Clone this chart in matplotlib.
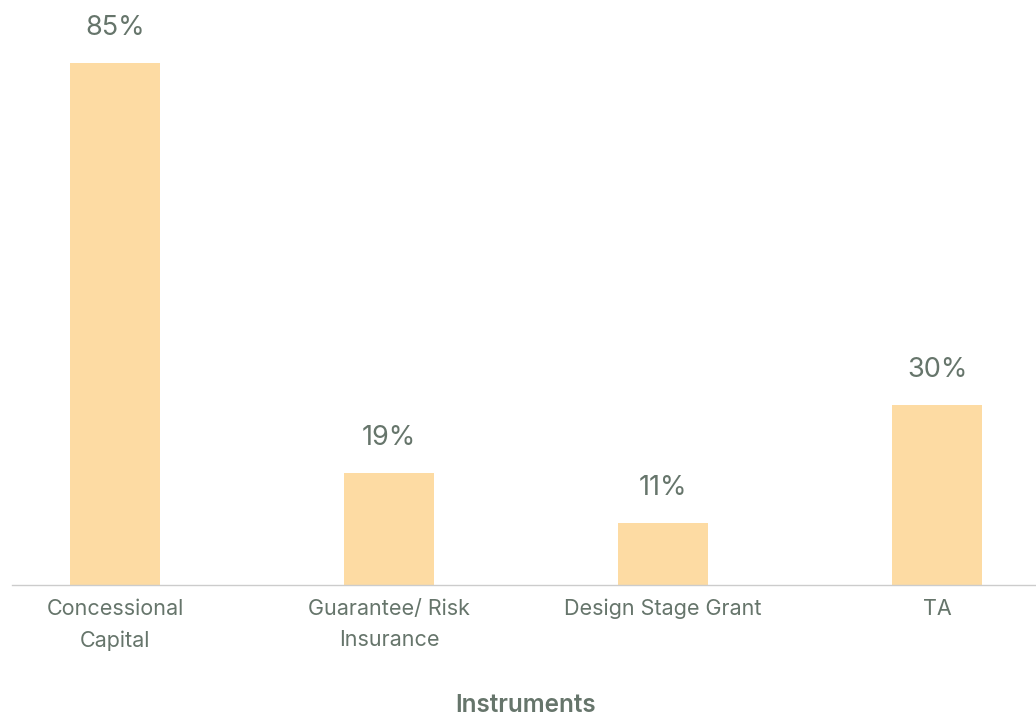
import matplotlib.pyplot as plt

categories = ['Concessional\nCapital', 'Guarantee/ Risk\nInsurance', 'Design Stage Grant', 'TA']
values = [85, 19, 11, 30]
labels = ['85%', '19%', '11%', '30%']

TXT = '#66756b'
BAR = '#fddba3'

plt.rcParams['font.family'] = ['Inter', 'DejaVu Sans']

fig = plt.figure(figsize=(10.36, 7.17), dpi=100)
ax = fig.add_axes([12/1036, 1 - 585/717, 1 - 12/1036, 585/717])

x = list(range(len(categories)))
ax.bar(x, values, width=0.328, color=BAR, zorder=2)

# подписи над столбиками
for xi, v, lab in zip(x, values, labels):
    ax.annotate(lab, (xi, v), xytext=(0, 20), textcoords='offset points',
                ha='center', va='baseline', fontsize=19.5, color=TXT)

ax.set_xlim(-0.376, 3.361)
ax.set_ylim(1.0, 95.1)
ax.set_xticks(x)
ax.set_xticklabels(categories, fontsize=15.5, color=TXT, linespacing=1.72)
ax.tick_params(axis='x', length=0, pad=10)
ax.set_yticks([])
for s in ['top', 'right', 'left']:
    ax.spines[s].set_visible(False)
ax.spines['bottom'].set_color('#cccccc')
ax.spines['bottom'].set_linewidth(1)

ax.set_xlabel('Instruments', fontsize=17.5, color=TXT, fontweight='semibold')
ax.xaxis.set_label_coords((526 - 12) / 1024, -(694 - 585) / 585)

fig.savefig('out.png', dpi=100)
